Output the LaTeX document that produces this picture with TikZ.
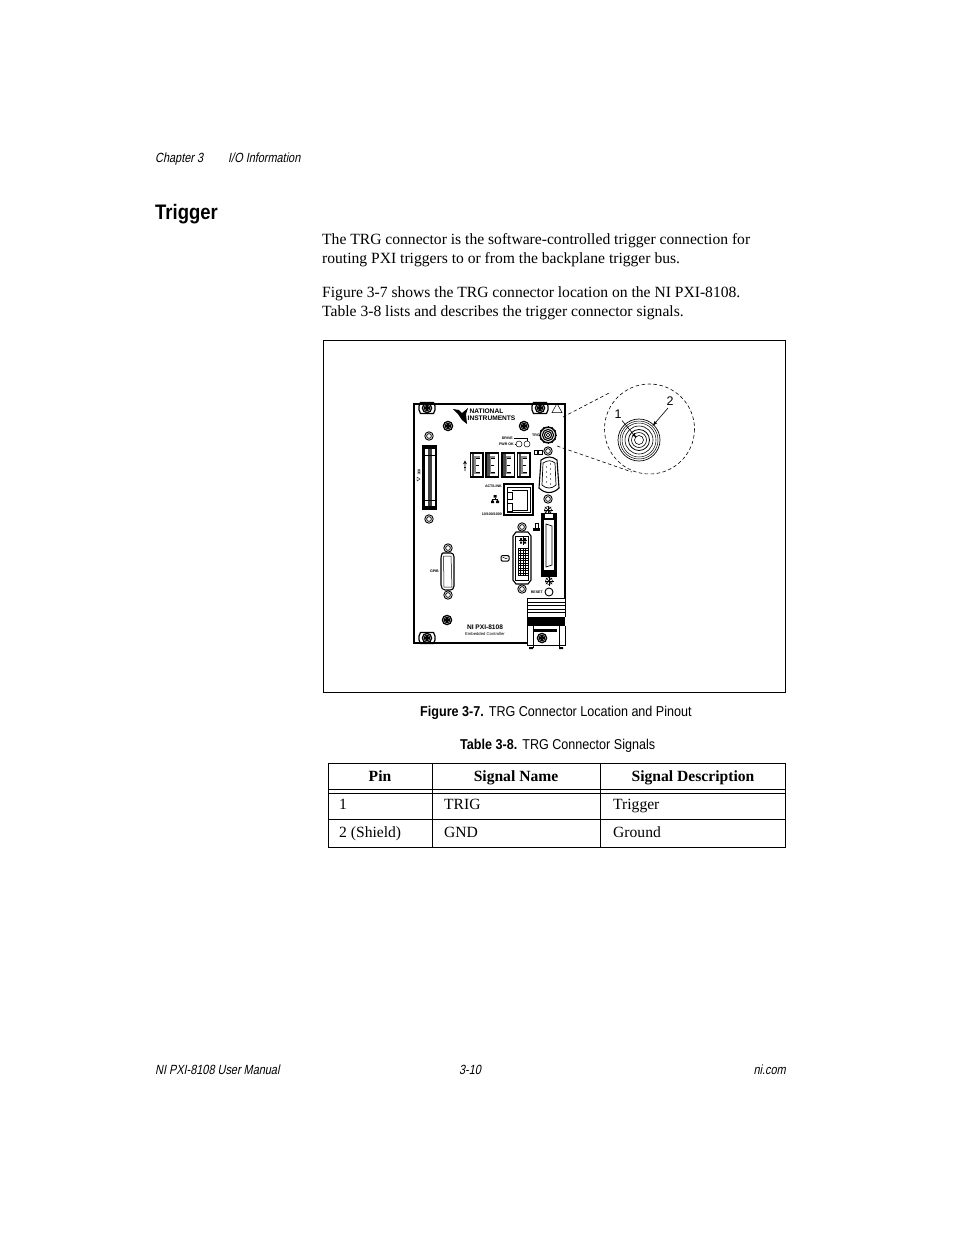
\documentclass[tikz,border=0pt]{standalone}
\usepackage{fontspec}
\setmainfont{Liberation Serif}
\newfontfamily\hv{Liberation Sans}
\newfontfamily\hn[FakeStretch=0.88]{Liberation Sans}
\newfontfamily\hnsl[FakeStretch=0.82,FakeSlant=0.2]{Liberation Sans}
\newfontfamily\hnb[FakeStretch=0.88]{Liberation Sans Bold}
\usetikzlibrary{arrows.meta}
\tikzset{
  x=1pt,y=-1pt,
  body/.style={font=\fontsize{15.6}{19}\selectfont,anchor=base west,inner sep=0},
  foot/.style={font=\hnsl\fontsize{13.3}{14}\selectfont,inner sep=0},
  capt/.style={font=\hn\fontsize{14.3}{16}\selectfont,inner sep=0,anchor=base west},
  tab/.style={font=\fontsize{15.6}{19}\selectfont,anchor=base west,inner sep=0},
  tabh/.style={font=\bfseries\fontsize{15.6}{19}\selectfont,inner sep=0,anchor=base},
  tinyl/.style={font=\hv\bfseries\fontsize{3.6}{4}\selectfont,inner sep=0},
  ln/.style={draw=black,line width=0.8pt},
  dsh/.style={draw=black,line width=0.6pt,dash pattern=on 3.5pt off 2.5pt},
}
\newcommand{\screw}[2]{%
  \draw[line width=1.3pt] (#1,#2) circle[radius=4.6];
  \draw[line width=1pt] (#1,#2) circle[radius=2.8];
  \draw[line width=1.1pt] (#1-3,#2)--(#1+3,#2) (#1,#2-3)--(#1,#2+3);}
\newcommand{\capscrew}[2]{%
  \screw{#1}{#2}
  \draw[line width=1.2pt] (#1-8,#2-2) -- (#1-6.5,#2-5.5) -- (#1+6.5,#2-5.5) -- (#1+8,#2-2) -- (#1+8,#2+2) -- (#1+6.5,#2+5.5) -- (#1-6.5,#2+5.5) -- (#1-8,#2+2) -- cycle;}
\newcommand{\nut}[2]{%
  \draw[line width=0.9pt,fill=white] (#1,#2) circle[radius=4.2];
  \draw[line width=0.7pt] (#1,#2) circle[radius=2.4];}
\newcommand{\usb}[1]{%
  \draw[line width=1.1pt] (#1,453) rectangle (#1+12.5,477);
  \fill[black!70] (#1+1,454) rectangle (#1+3.5,476);
  \fill[black!45] (#1+3.5,456) rectangle (#1+9,474);
  \fill[white] (#1+5,458) rectangle (#1+11,472);
  \draw[line width=0.7pt] (#1+5,458)--(#1+9,458) (#1+5,465)--(#1+8,465) (#1+5,472)--(#1+9,472);}
\begin{document}
\begin{tikzpicture}
\useasboundingbox (0,0) rectangle (954,1235);
\fill[white] (0,0) rectangle (954,1235);
% page text
\node[foot,anchor=base west] (hdA) at (155,162) {Chapter 3};
\node[foot,anchor=base west] (hdB) at (228,162) {I/O Information};
\node[font=\hnb\fontsize{21}{24}\selectfont,anchor=base west,inner sep=0] (title) at (155,219) {Trigger};
\node[body] (p1) at (322,244) {The TRG connector is the software-controlled trigger connection for};
\node[body] (p2) at (322,263) {routing PXI triggers to or from the backplane trigger bus.};
\node[body] (p3) at (322,297) {Figure 3-7 shows the TRG connector location on the NI PXI-8108.};
\node[body] (p4) at (322,316) {Table 3-8 lists and describes the trigger connector signals.};
% figure frame
\draw[ln] (323.5,340.5) rectangle (785.5,692.5);
% panel
\draw[line width=1.1pt] (527,643) -- (414,643) -- (414,404) -- (565,404) -- (565,598);
\capscrew{427}{408}
\capscrew{540}{408}
\draw[line width=0.5pt] (552,412.5)--(557,403.5)--(562,412.5)--cycle;
\screw{448}{426}
\screw{524}{426}
% logo
\fill (453,409) -- (459,410) -- (462,413) -- (468,408) -- (466,414) -- (467,424) -- (462,420) -- (458,414) -- cycle;
\node[font=\hv\bfseries\fontsize{6.6}{6.4}\selectfont,anchor=base west,inner sep=0] (nat) at (469.5,413.5) {NATIONAL};
\node[font=\hv\bfseries\fontsize{6.6}{6.4}\selectfont,anchor=base west,inner sep=0] (ins) at (467.5,420) {INSTRUMENTS};
% status
\node[tinyl,anchor=east] (drv) at (513,438.5) {DRIVE};
\node[tinyl,anchor=east] (pwr) at (514,444) {PWR OK};
\draw[line width=0.5pt] (519,444) circle[radius=3] (527,444) circle[radius=3];
\draw[line width=0.4pt] (514,438.5)--(527,438.5)--(527,441) (514.5,444)--(516,444);
% TRG
\node[tinyl,anchor=east] (trgl) at (540,435) {TRG};
\foreach \r/\w in {7.8/1.5,5.6/1.1,3.6/1.1,1.8/0.7} \draw[line width=\w pt] (548,435) circle[radius=\r];
\foreach \a in {0,30,...,330} \draw[line width=0.6pt] (548,435) ++(\a:7.8) -- ++(\a:1.3);
% serial
\draw[line width=0.5pt] (534,450) rectangle (537.5,454) (538.5,450) rectangle (542,454);
\draw[line width=1.1pt] (541,460) .. controls (547,456) and (552,456) .. (557,460) -- (559,488) .. controls (553,494) and (545,494) .. (539,488) -- cycle;
\draw[line width=0.7pt] (543,463) .. controls (548,460) and (551,460) .. (555,463) -- (556,485) .. controls (552,489) and (546,489) .. (542,485) -- cycle;
\nut{548}{451}
\nut{548}{499}
\foreach \y in {464,469,474,479,484} \fill (550.5,\y) circle[radius=0.6];
\foreach \y in {467,472,477,482} \fill (546.5,\y) circle[radius=0.6];
% left connector
\fill (422,445) rectangle (437,510);
\fill[white] (424.5,449) rectangle (434.5,506);
\fill[black!75] (428,449) rectangle (431.5,506);
\draw[line width=0.5pt] (424.5,455)--(434.5,455) (424.5,500)--(434.5,500);
\nut{429}{436}
\nut{429}{519}
\node[tinyl,rotate=-90] (ide) at (419,472) {IDE};
\draw[line width=0.4pt] (417,477)--(420,479)--(417,481)--cycle;
% usb
\usb{470.5}\usb{486}\usb{502}\usb{517.5}
\draw[line width=0.6pt] (465,471)--(465,461) (463.5,464)--(465,461)--(466.5,464);
\draw[line width=0.6pt] (463.8,467)--(466.2,467);
% ethernet
\draw[line width=1.1pt] (504,484) rectangle (533,515);
\draw[line width=0.4pt] (507,487) rectangle (530,512);
\draw[line width=0.4pt] (507,492) rectangle (512,499) (507,503) rectangle (512,511);
\draw[line width=0.4pt] (512,490)--(527,490)--(527,510)--(512,510);
\node[tinyl,anchor=east] (act) at (502,486) {ACT/LINK};
\node[tinyl,anchor=east] (spd) at (502,514) {10/100/1000};
\fill (493.5,495) rectangle (496.5,497.5) (491,500.5) rectangle (494,503) (496,500.5) rectangle (499,503);
\draw[line width=0.5pt] (495,497.5)--(495,499.5) (492.5,500.5)--(492.5,499.5)--(497.5,499.5)--(497.5,500.5);
% screw below serial
\draw[line width=0.5pt] (548,510) circle[radius=3.5];
\foreach \a in {0,45,...,315} \draw[line width=0.5pt] (548,510) -- ++(\a:4.5);
% right connector
\fill (541,513) rectangle (557,577);
\fill[white] (544,520) rectangle (554,570);
\draw[line width=0.7pt] (546,524)--(552,526)--(552,565)--(546,567)--cycle;
\draw[line width=0.5pt] (549,581) circle[radius=3.5];
\foreach \a in {0,45,...,315} \draw[line width=0.5pt] (549,581) -- ++(\a:4.5);
\fill[white] (545,514) rectangle (553,518);
% printer icon
\draw[line width=0.5pt] (535,523) rectangle (538,528);
\fill (532.5,528) rectangle (539.5,531);
% DVI
\nut{522}{527}
\nut{522}{589}
\draw[line width=1.1pt] (513,536) -- (516,532) -- (528,532) -- (531,536) -- (531,580) -- (528,584) -- (516,584) -- (513,580) -- cycle;
\draw[line width=0.5pt] (515.5,536) rectangle (528.5,580);
\draw[line width=0.9pt] (523,536.5)--(523,545) (519,540.5)--(527,540.5);
\fill (520,538) rectangle (522,540) (524,538) rectangle (526,540) (520,541.5) rectangle (522,543.5) (524,541.5) rectangle (526,543.5);
\foreach \i in {0,...,4} \draw[line width=0.7pt] (518+2.5*\i,548)--(518+2.5*\i,575.5);
\foreach \i in {0,...,11} \draw[line width=0.7pt] (518,548+2.5*\i)--(528,548+2.5*\i);
% monitor icon
\draw[line width=1pt,rounded corners=1.2pt] (501,555.5) rectangle (509,561);
\draw[line width=0.5pt] (502.5,558)..controls (504,556) and (505,560) .. (507.5,558);
% GPIB
\nut{448}{548}
\nut{448}{595}
\draw[line width=1.1pt] (443,553) -- (451,553) .. controls (453,553) and (454,555) .. (454,557) -- (454,586) .. controls (454,589) and (452,590) .. (450,590) -- (445,590) .. controls (443,590) and (441,588) .. (441,585) -- (441,558) .. controls (441,555) and (442,553) .. (443,553) -- cycle;
\draw[line width=0.5pt] (443.5,556) -- (451,556) -- (452,587) -- (444,587) -- cycle;
\node[tinyl,anchor=east] (gpib) at (439,571) {GPIB};
% reset
\node[tinyl,anchor=east] (rst) at (543,592) {RESET};
\draw[line width=0.9pt] (549,592) circle[radius=4];
% lower
\screw{447}{620}
\capscrew{427}{638}
\node[font=\hv\bfseries\fontsize{6.6}{7}\selectfont,inner sep=0] (ni) at (485,627.5) {NI PXI-8108};
\node[font=\hv\fontsize{4.2}{5}\selectfont,inner sep=0] (emb) at (485,633.5) {Embedded Controller};
% handle
\draw[line width=0.9pt] (527,617) -- (527,598) -- (565,598) -- (565,617);
\draw[line width=0.6pt] (527,602)--(565,602) (527,605.5)--(565,605.5) (527,609)--(565,609) (527,612.5)--(565,612.5);
\fill (527,617) rectangle (565,626);
\draw[line width=0.8pt] (527,626) -- (527,645) -- (533,645);
\draw[line width=0.8pt] (565,626) -- (565,645) -- (559,645);
\draw[line width=0.6pt] (533,626)--(533,648) (559,626)--(559,648);
\fill (529,647) rectangle (533,649) (559,647) rectangle (563,649);
\fill (533,629) rectangle (557,632);
\draw[line width=0.7pt] (533,645) -- (559,645);
\screw{542}{638}
% magnifier
\coordinate (magc) at (649.5,429);
\draw[dsh] (magc) circle[radius=45];
\draw[dsh] (563,417) -- (611,392);
\draw[dsh] (557,446) -- (632,472);
\foreach \r/\w in {21/0.7,19/0.5,17/0.5,14/0.6,10.5/0.8,7.5/0.6,4.5/0.6} \draw[line width=\w pt] (639,440) circle[radius=\r];
\node[font=\hv\fontsize{12.5}{14}\selectfont,inner sep=0] (pa) at (618,414.5) {1};
\node[font=\hv\fontsize{12.5}{14}\selectfont,inner sep=0] (pb) at (670,401) {2};
\coordinate (ta) at (636.5,438);
\coordinate (tb) at (652.5,426);
\draw[line width=0.6pt,-{Latex[length=5pt,width=3.5pt]}] (pa) ++(4,6) -- (ta);
\draw[line width=0.6pt,-{Latex[length=5pt,width=3.5pt]}] (pb) ++(-2,7) -- (tb);
% captions
\node[capt] (figcap) at (420,716) {{\hnb Figure 3-7.}\hspace{5pt}TRG Connector Location and Pinout};
\node[capt] (tabcap) at (460,749) {{\hnb Table 3-8.}\hspace{5pt}TRG Connector Signals};
% table
\draw[ln] (328.5,763.5) rectangle (785.5,847.5);
\draw[ln] (432,763.5)--(432,847.5) (600.5,763.5)--(600.5,847.5);
\draw[ln] (328.5,789.5)--(785.5,789.5) (328.5,793)--(785.5,793) (328.5,819.5)--(785.5,819.5);
\node[tabh] (th1) at (380,781) {Pin};
\node[tabh] (th2) at (516,781) {Signal Name};
\node[tabh] (th3) at (693,781) {Signal Description};
\node[tab] (c11) at (339,809) {1};
\node[tab] (c12) at (444,809) {TRIG};
\node[tab] (c13) at (613,809) {Trigger};
\node[tab] (c21) at (339,837) {2 (Shield)};
\node[tab] (c22) at (444,837) {GND};
\node[tab] (c23) at (613,837) {Ground};
% footer
\node[foot,anchor=base west] (f1) at (155,1074) {NI PXI-8108 User Manual};
\node[foot,anchor=base] (f2) at (470,1074) {3-10};
\node[foot,anchor=base east] (f3) at (786,1074) {ni.com};
\end{tikzpicture}
\end{document}
